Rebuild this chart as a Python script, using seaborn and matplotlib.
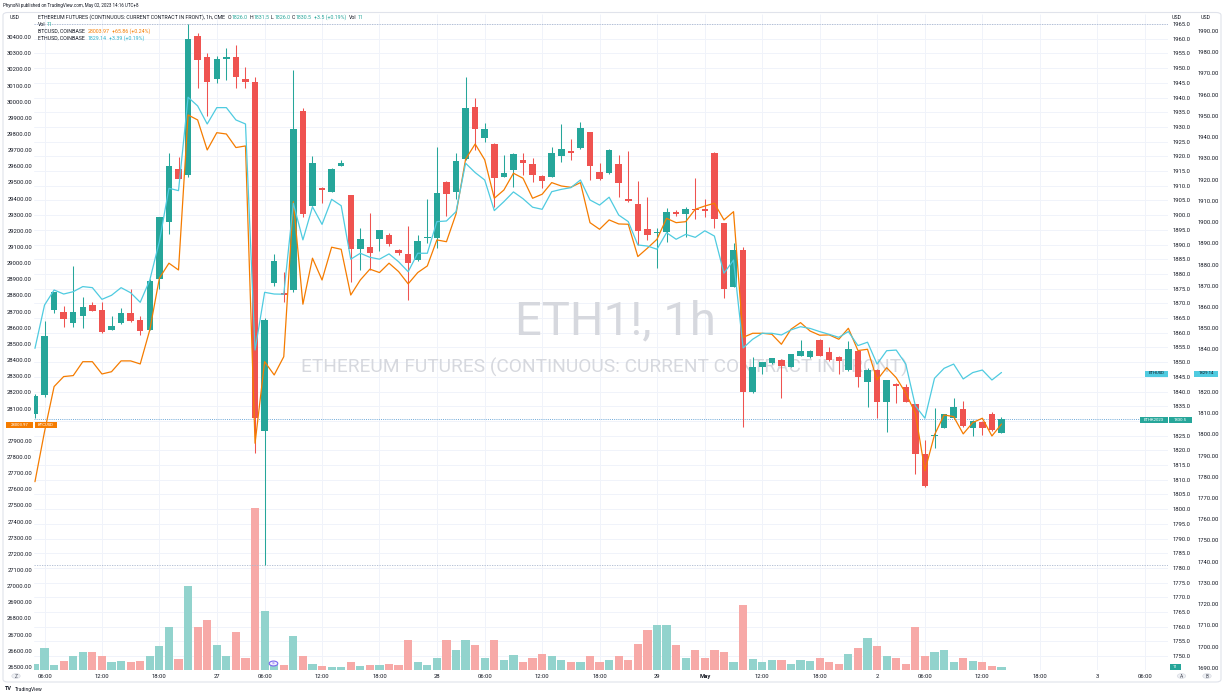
import numpy as np
import matplotlib
matplotlib.use("Agg")
import matplotlib.pyplot as plt
import seaborn as sns
from matplotlib.patches import Rectangle, FancyBboxPatch, Circle

# ---------------- data ----------------
opens = [1832.2, 1838.8, 1867.7, 1867.2, 1863.2, 1865.7, 1869.6, 1867.7, 1861.1, 1863.2,
         1866.6, 1864.5, 1861.1, 1878.3, 1897.8, 1915.7, 1913.6, 1960.9, 1953.9, 1946.2,
         1953.1, 1953.9, 1946.3, 1945.3, 1826.7, 1876.8, 1873.6, 1874.5, 1935.4, 1903.2,
         1909.2, 1907.9, 1916.8, 1906.8, 1888.4, 1889.3, 1891.8, 1893.3, 1888.1, 1886.8,
         1884.7, 1892.1, 1892.3, 1911.3, 1908.0, 1919.0, 1936.7, 1926.3, 1924.3, 1913.1,
         1915.2, 1918.7, 1917.4, 1913.3, 1913.1, 1920.2, 1921.8, 1922.7, 1928.2, 1914.8,
         1914.3, 1917.3, 1905.4, 1903.8, 1895.2, 1893.8, 1894.1, 1901.1, 1900.4, 1902.2,
         1902.2, 1921.2, 1897.2, 1875.6, 1888.1, 1839.7, 1848.4, 1849.8, 1850.7, 1848.4,
         1852.2, 1851.7, 1857.7, 1853.3, 1851.8, 1847.3, 1853.8, 1843.3, 1847.3, 1836.4,
         1842.5, 1841.6, 1835.6, 1818.7, 1825.0, 1827.7, 1830.9, 1834.0, 1827.7, 1829.7,
         1832.2, 1826.0]
highs = [1839.0, 1864.0, 1874.0, 1869.2, 1882.8, 1872.0, 1870.5, 1870.3, 1865.7, 1868.3,
         1874.8, 1865.7, 1878.2, 1899.5, 1921.0, 1919.9, 1965.0, 1962.0, 1955.0, 1954.0,
         1956.7, 1957.9, 1950.3, 1947.0, 1865.0, 1886.7, 1880.8, 1949.4, 1936.3, 1920.2,
         1909.5, 1916.0, 1918.7, 1907.0, 1895.5, 1900.8, 1895.0, 1894.0, 1888.6, 1896.4,
         1893.4, 1905.4, 1923.3, 1911.5, 1921.0, 1947.1, 1939.9, 1931.2, 1924.6, 1920.3,
         1921.0, 1921.0, 1919.3, 1913.5, 1923.3, 1930.9, 1925.9, 1931.8, 1928.4, 1917.6,
         1922.5, 1920.4, 1921.8, 1911.6, 1906.3, 1895.5, 1902.3, 1901.8, 1902.6, 1912.7,
         1905.5, 1921.3, 1897.3, 1890.6, 1889.0, 1851.9, 1850.2, 1851.5, 1850.9, 1852.8,
         1857.5, 1854.0, 1857.9, 1855.2, 1852.0, 1857.3, 1854.0, 1848.0, 1847.5, 1843.9,
         1842.8, 1842.5, 1835.8, 1823.5, 1834.3, 1832.4, 1837.9, 1836.9, 1830.3, 1829.9,
         1833.1, 1831.5]
lows = [1831.0, 1838.0, 1866.8, 1861.8, 1861.8, 1861.5, 1867.5, 1860.0, 1861.1, 1863.0,
        1863.5, 1859.1, 1860.8, 1874.8, 1893.5, 1912.3, 1913.0, 1943.1, 1933.8, 1944.8,
        1946.0, 1943.3, 1943.3, 1819.0, 1781.0, 1876.0, 1870.5, 1874.0, 1899.5, 1903.0,
        1904.0, 1907.7, 1916.6, 1877.4, 1881.3, 1881.3, 1887.9, 1889.5, 1886.3, 1871.1,
        1884.5, 1890.6, 1888.9, 1899.7, 1905.4, 1918.8, 1922.1, 1925.0, 1902.9, 1912.9,
        1909.7, 1913.6, 1911.4, 1909.1, 1913.0, 1917.9, 1918.7, 1922.5, 1912.0, 1912.0,
        1914.1, 1906.0, 1904.5, 1890.0, 1891.5, 1881.9, 1891.0, 1899.8, 1892.7, 1898.6,
        1899.3, 1895.7, 1871.7, 1875.4, 1828.0, 1839.5, 1846.0, 1849.5, 1837.9, 1848.2,
        1852.0, 1851.5, 1852.0, 1850.5, 1846.0, 1847.1, 1841.6, 1834.8, 1830.9, 1826.3,
        1836.0, 1836.3, 1811.9, 1807.7, 1820.7, 1827.5, 1830.7, 1828.1, 1824.9, 1825.2,
        1826.7, 1826.0]
closes = [1838.5, 1858.9, 1873.7, 1864.8, 1867.2, 1868.9, 1867.5, 1860.4, 1862.3, 1866.6,
          1864.1, 1860.7, 1877.7, 1899.2, 1916.7, 1912.3, 1959.8, 1952.8, 1945.3, 1953.2,
          1953.8, 1946.9, 1945.3, 1830.9, 1864.5, 1884.3, 1872.7, 1929.3, 1900.4, 1917.6,
          1908.6, 1915.8, 1917.6, 1888.4, 1891.8, 1887.2, 1894.8, 1890.2, 1887.2, 1883.8,
          1891.2, 1892.5, 1907.6, 1907.3, 1918.3, 1936.3, 1929.4, 1929.3, 1912.5, 1914.2,
          1920.8, 1917.8, 1913.8, 1911.7, 1921.0, 1922.4, 1921.2, 1929.7, 1916.8, 1912.3,
          1922.3, 1910.8, 1904.8, 1894.7, 1893.2, 1894.3, 1901.2, 1900.4, 1902.2, 1901.7,
          1901.4, 1898.8, 1874.8, 1888.1, 1839.7, 1848.2, 1850.0, 1851.3, 1848.7, 1852.6,
          1853.8, 1853.8, 1852.2, 1850.7, 1850.3, 1854.6, 1844.8, 1847.3, 1836.5, 1843.8,
          1842.0, 1836.5, 1818.7, 1807.9, 1825.3, 1832.2, 1834.6, 1828.3, 1830.1, 1827.7,
          1826.9, 1830.5]
btcusd = [27647, 27957, 28236, 28298, 28304, 28390, 28390, 28314, 28328, 28395,
          28395, 28376, 28587, 28907, 29000, 28958, 29918, 29887, 29701, 29808,
          29800, 29716, 29726, 27885, 28390, 28308, 28421, 29381, 28746, 29031,
          28896, 29099, 29086, 28803, 28896, 28963, 28942, 29000, 28948, 28872,
          28942, 28983, 29144, 29133, 29305, 29644, 29738, 29640, 29402, 29453,
          29557, 29526, 29402, 29427, 29499, 29478, 29470, 29499, 29251, 29210,
          29268, 29243, 29241, 29041, 29093, 29148, 29278, 29251, 29257, 29334,
          29354, 29371, 29268, 29319, 28541, 28566, 28566, 28560, 28498, 28591,
          28632, 28580, 28554, 28556, 28529, 28597, 28459, 28467, 28277, 28353,
          28291, 28195, 28071, 27715, 27937, 28060, 28050, 27943, 28013, 28040,
          27930, 28003.97]
ethusd = [1840.5, 1860.9, 1868.0, 1866.1, 1867.2, 1869.6, 1869.1, 1863.6, 1865.5, 1869.1,
          1866.7, 1862.2, 1872.7, 1890.8, 1915.9, 1914.8, 1958.8, 1954.7, 1946.2, 1953.9,
          1953.9, 1948.1, 1946.2, 1839.7, 1866.9, 1866.1, 1866.0, 1908.8, 1891.6, 1907.2,
          1898.9, 1910.7, 1907.7, 1882.5, 1885.3, 1883.4, 1882.5, 1885.0, 1881.3, 1876.6,
          1885.3, 1885.3, 1900.2, 1900.5, 1904.9, 1927.7, 1923.3, 1919.8, 1905.4, 1909.6,
          1914.2, 1911.0, 1907.0, 1906.0, 1914.3, 1915.4, 1916.2, 1919.8, 1910.4, 1908.0,
          1911.7, 1903.3, 1900.2, 1889.2, 1888.7, 1887.2, 1895.0, 1891.9, 1894.2, 1892.8,
          1895.9, 1893.4, 1875.9, 1882.1, 1840.7, 1844.8, 1847.6, 1847.6, 1846.8, 1849.2,
          1850.7, 1849.9, 1848.4, 1847.1, 1845.7, 1848.4, 1841.8, 1843.4, 1833.1, 1839.4,
          1839.7, 1833.1, 1813.4, 1807.6, 1826.4, 1831.1, 1833.1, 1826.1, 1829.1, 1830.3,
          1825.6, 1829.14]
volumes = [22, 79, 18, 32, 50, 65, 65, 50, 29, 32,
           29, 32, 50, 86, 158, 40, 306, 158, 180, 90,
           50, 137, 43, 590, 216, 29, 18, 122, 50, 22,
           14, 11, 11, 29, 14, 18, 18, 22, 18, 108,
           29, 18, 43, 108, 72, 108, 90, 43, 108, 36,
           54, 29, 43, 58, 50, 36, 29, 29, 50, 29,
           36, 50, 36, 94, 144, 162, 162, 90, 43, 72,
           43, 72, 65, 30, 235, 40, 29, 36, 36, 22,
           36, 32, 43, 29, 22, 58, 79, 115, 86, 50,
           43, 22, 158, 50, 65, 72, 29, 43, 32, 29,
           14, 11]
time_tick_pos = [1, 7, 13, 19, 24, 30, 36, 42, 47, 53, 59, 65, 70, 76, 82, 88, 93, 99, 105, 111, 116]
time_tick_labels = ["06:00", "12:00", "18:00", "27", "06:00", "12:00", "18:00", "28", "06:00", "12:00",
                    "18:00", "29", "May", "12:00", "18:00", "2", "06:00", "12:00", "18:00", "3", "06:00"]
eth1_ticks = list(np.arange(1750, 1966, 5))
ethusd_ticks = list(np.arange(1690, 1991, 10))
btc_ticks = list(np.arange(26500, 30401, 100))

# ---------------- style ----------------
sns.set_theme(style="white")
plt.rcParams['font.family'] = ['Roboto', 'DejaVu Sans']

GREEN = '#26a69a'
RED = '#ef5350'
VGREEN = '#92d3cd'
VRED = '#f7a9a7'
ORANGE = '#f57c00'
CYAN = '#4fcbe0'
CYANT = '#2fb3cc'
TXT = '#131722'
GRID = '#f0f3fa'
FS = 4.2
FSL = 3.75

W, H = 1225, 696
fig = plt.figure(figsize=(W / 100, H / 100), dpi=100)
fig.patch.set_facecolor('white')

L, R, T, B = 34, 1168, 14, 670
rect = [L / W, 1 - B / H, (R - L) / W, (B - T) / H]

ax_vol = fig.add_axes(rect, zorder=0)
ax = fig.add_axes(rect, zorder=1, sharex=ax_vol)
ax_btc = fig.add_axes(rect, zorder=2, sharex=ax_vol)
ax_eth = fig.add_axes(rect, zorder=3, sharex=ax_vol)
ax_vol.set_facecolor('white')
for a in (ax, ax_btc, ax_eth):
    a.patch.set_visible(False)
for a in (ax_vol, ax, ax_btc, ax_eth):
    for s in a.spines.values():
        s.set_visible(False)
    a.grid(False)

XMIN, XMAX = -0.1, 118.4
ETH_LIM = (1745.3, 1968.4)
BTC_LIM = (26481, 30543)
ETHUSD_LIM = (1689, 1998)
VOL_TOP = 2385

idx = np.arange(len(opens))
o = np.array(opens); h = np.array(highs); l = np.array(lows); c = np.array(closes)
up = c >= o
ccol = np.where(up, GREEN, RED)
vcol = np.where(up, VGREEN, VRED)

# grid (drawn on the lowest axes)
for p in eth1_ticks:
    f = (p - ETH_LIM[0]) / (ETH_LIM[1] - ETH_LIM[0])
    ax_vol.plot([0, 1], [f, f], transform=ax_vol.transAxes, color=GRID, lw=0.7, zorder=0)
ax_vol.vlines(time_tick_pos, 0, 1, transform=ax_vol.get_xaxis_transform(), color=GRID, lw=0.7, zorder=0)

# watermark
ax_vol.text(615 / W, 1 - 321 / H, "ETH1!, 1h", transform=fig.transFigure, fontsize=34,
            color='#d6d8de', ha='center', va='center', zorder=0.5)
ax_vol.text(604 / W, 1 - 367.5 / H, "ETHEREUM FUTURES (CONTINUOUS: CURRENT CONTRACT IN FRONT)",
            transform=fig.transFigure, fontsize=13.8, color='#d6d8de', ha='center', va='center', zorder=0.5)

# volume
ax_vol.bar(idx, volumes, width=0.86, color=vcol, linewidth=0, zorder=1)
ax_vol.set_ylim(0, VOL_TOP)
ax_vol.set_xlim(XMIN, XMAX)
ax_vol.tick_params(left=False, bottom=False, labelleft=False, labelbottom=False)

# high / low lines and last price line
ax.axhline(max(highs), color='#a9b7cf', lw=0.6, ls=(0, (1.5, 1.5)), zorder=1)
ax.axhline(min(lows), color='#a9b7cf', lw=0.6, ls=(0, (1.5, 1.5)), zorder=1)
ax.axhline(closes[-1], color='#6fa9d8', lw=0.7, ls=(0, (1, 1.2)), zorder=1)

# candles
ax.vlines(idx, l, h, colors=ccol, lw=0.75, zorder=2)
body_h = np.maximum(np.abs(c - o), 0.35)
ax.bar(idx, body_h, bottom=np.minimum(o, c), width=0.68, color=ccol, linewidth=0, zorder=3)
ax.set_ylim(*ETH_LIM)
ax.yaxis.tick_right()
ax.set_yticks(eth1_ticks)
# the label hidden behind the last-price tag is left blank
ax.set_yticklabels(["" if v == 1830 else f"{v:.1f}" for v in eth1_ticks])
ax.tick_params(axis='y', length=0, pad=3.4, labelsize=FS, labelcolor=TXT)
ax.set_xticks(time_tick_pos)
ax.set_xticklabels(time_tick_labels)
ax.tick_params(axis='x', length=0, pad=3.2, labelsize=FS, labelcolor=TXT)
for lab in ax.get_xticklabels():
    if lab.get_text() == 'May':
        lab.set_fontweight('bold')

# compared symbols
sns.lineplot(x=idx, y=btcusd, ax=ax_btc, color=ORANGE, lw=0.9, legend=False)
ax_btc.set_ylim(*BTC_LIM)
ax_btc.yaxis.tick_left()
ax_btc.set_yticks(btc_ticks)
ax_btc.set_yticklabels(["" if v == 28000 else f"{v:.2f}" for v in btc_ticks])
ax_btc.tick_params(axis='y', length=0, pad=1.4, labelsize=FS, labelcolor=TXT)
ax_btc.tick_params(axis='x', bottom=False, labelbottom=False)
ax_btc.set_xlabel(''); ax_btc.set_ylabel('')

sns.lineplot(x=idx, y=ethusd, ax=ax_eth, color=CYAN, lw=0.9, legend=False)
ax_eth.set_ylim(*ETHUSD_LIM)
ax_eth.yaxis.tick_right()
ax_eth.spines['right'].set_position(('outward', 21))
ax_eth.set_yticks(ethusd_ticks)
ax_eth.set_yticklabels(["" if v == 1830 else f"{v:.2f}" for v in ethusd_ticks])
ax_eth.tick_params(axis='y', length=0, pad=0.5, labelsize=FS, labelcolor=TXT)
ax_eth.tick_params(axis='x', bottom=False, labelbottom=False)
ax_eth.set_xlabel(''); ax_eth.set_ylabel('')
ax_eth.set_xlim(XMIN, XMAX)


# ---------------- figure-level decorations ----------------
renderer = fig.canvas.get_renderer()


def ftxt(x, y, s, **kw):
    kw.setdefault('fontsize', FS)
    kw.setdefault('color', TXT)
    kw.setdefault('va', 'center')
    return fig.text(x / W, 1 - y / H, s, **kw)


def fline(x, y, pieces, fs=FSL):
    """Lay out coloured text pieces one after another."""
    for s, col, gap in pieces:
        t = ftxt(x, y, s, fontsize=fs, color=col)
        x += t.get_window_extent(renderer=renderer).width + gap


def fbox(x0, y0, x1, y1, color, s, tcolor='white', fs=3.1):
    fig.patches.append(Rectangle((x0 / W, 1 - y1 / H), (x1 - x0) / W, (y1 - y0) / H,
                                 transform=fig.transFigure, facecolor=color, edgecolor='none',
                                 zorder=5))
    fig.text((x0 + x1) / 2 / W, 1 - (y0 + y1) / 2 / H, s, ha='center', va='center',
             fontsize=fs, color=tcolor, zorder=6)


# outer frame
fig.patches.append(FancyBboxPatch((3 / W, 1 - 682 / H), (1221 - 3) / W, (682 - 12.5) / H,
                                  boxstyle='round,pad=0,rounding_size=0.004',
                                  transform=fig.transFigure, facecolor='none',
                                  edgecolor='#e0e3eb', lw=0.8, zorder=0))

ftxt(3, 6, "PhynoNi published on TradingView.com, May 02, 2023 14:16 UTC+8", fontsize=3.25)

ftxt(10, 17.5, "USD", fontsize=FSL)
ftxt(1172, 17.5, "USD", fontsize=FSL)
ftxt(1201, 17.5, "USD", fontsize=FSL)

fline(38, 17.5, [("ETHEREUM FUTURES (CONTINUOUS: CURRENT CONTRACT IN FRONT), 1h, CME", TXT, 2.5),
                 ("O", TXT, 0.4), ("1826.0", GREEN, 1.8),
                 ("H", TXT, 0.4), ("1831.5", GREEN, 1.8),
                 ("L", TXT, 0.4), ("1826.0", GREEN, 1.8),
                 ("C", TXT, 0.4), ("1830.5", GREEN, 1.8),
                 ("+3.5 (+0.19%)", GREEN, 3.0),
                 ("Vol", TXT, 1.2), ("11", GREEN, 0)])
fline(38, 24.5, [("Vol", TXT, 1.2), ("11", GREEN, 0)])
fline(38, 31.5, [("BTCUSD, COINBASE", TXT, 2.5), ("28003.97", ORANGE, 2.5),
                 ("+65.86 (+0.24%)", ORANGE, 0)])
fline(38, 38.5, [("ETHUSD, COINBASE", TXT, 2.5), ("1829.14", CYANT, 2.5),
                 ("+3.39 (+0.19%)", CYANT, 0)])

# price scale labels
fbox(6, 422.5, 32.5, 428.5, ORANGE, "28003.97")
fbox(35, 422.5, 57, 428.5, ORANGE, "BTCUSD")
fbox(1145, 370.5, 1168, 376.5, CYAN, "ETHUSD", tcolor=TXT)
fbox(1194, 370.5, 1218, 376.5, CYAN, "1829.14", tcolor=TXT)
fbox(1140, 417.3, 1167.5, 423.3, GREEN, "ETHK2023")
fbox(1169, 417.3, 1191.5, 423.3, GREEN, "1830.5")
fbox(1169.5, 663.5, 1181, 669.5, GREEN, "11")

# bottom buttons and event marker
for x, s in [(16, "Z"), (1181.5, "A"), (1207, "B")]:
    fig.patches.append(Circle((x / W, 1 - 676 / H), 4.2 / W, transform=fig.transFigure,
                              facecolor='#eef0f4', edgecolor='#d8dbe2', lw=0.5, zorder=5))
    ftxt(x, 676, s, ha='center', fontsize=3.4, color='#4a4e5a', zorder=6)
fig.patches.append(Circle((273.5 / W, 1 - 663.5 / H), 4.3 / W, transform=fig.transFigure,
                          facecolor='#f1eeff', edgecolor='#7b68ee', lw=0.8, zorder=5))
ftxt(273.5, 663.5, "»", ha='center', fontsize=4.2, color='#7b68ee', zorder=6)

# TradingView logo
ftxt(5, 689, "TV", fontsize=4.0, fontweight='bold', color='#131722')
ftxt(14.5, 689, "TradingView", fontsize=3.6, color='#131722')

fig.savefig("out.png", dpi=100, facecolor='white')
